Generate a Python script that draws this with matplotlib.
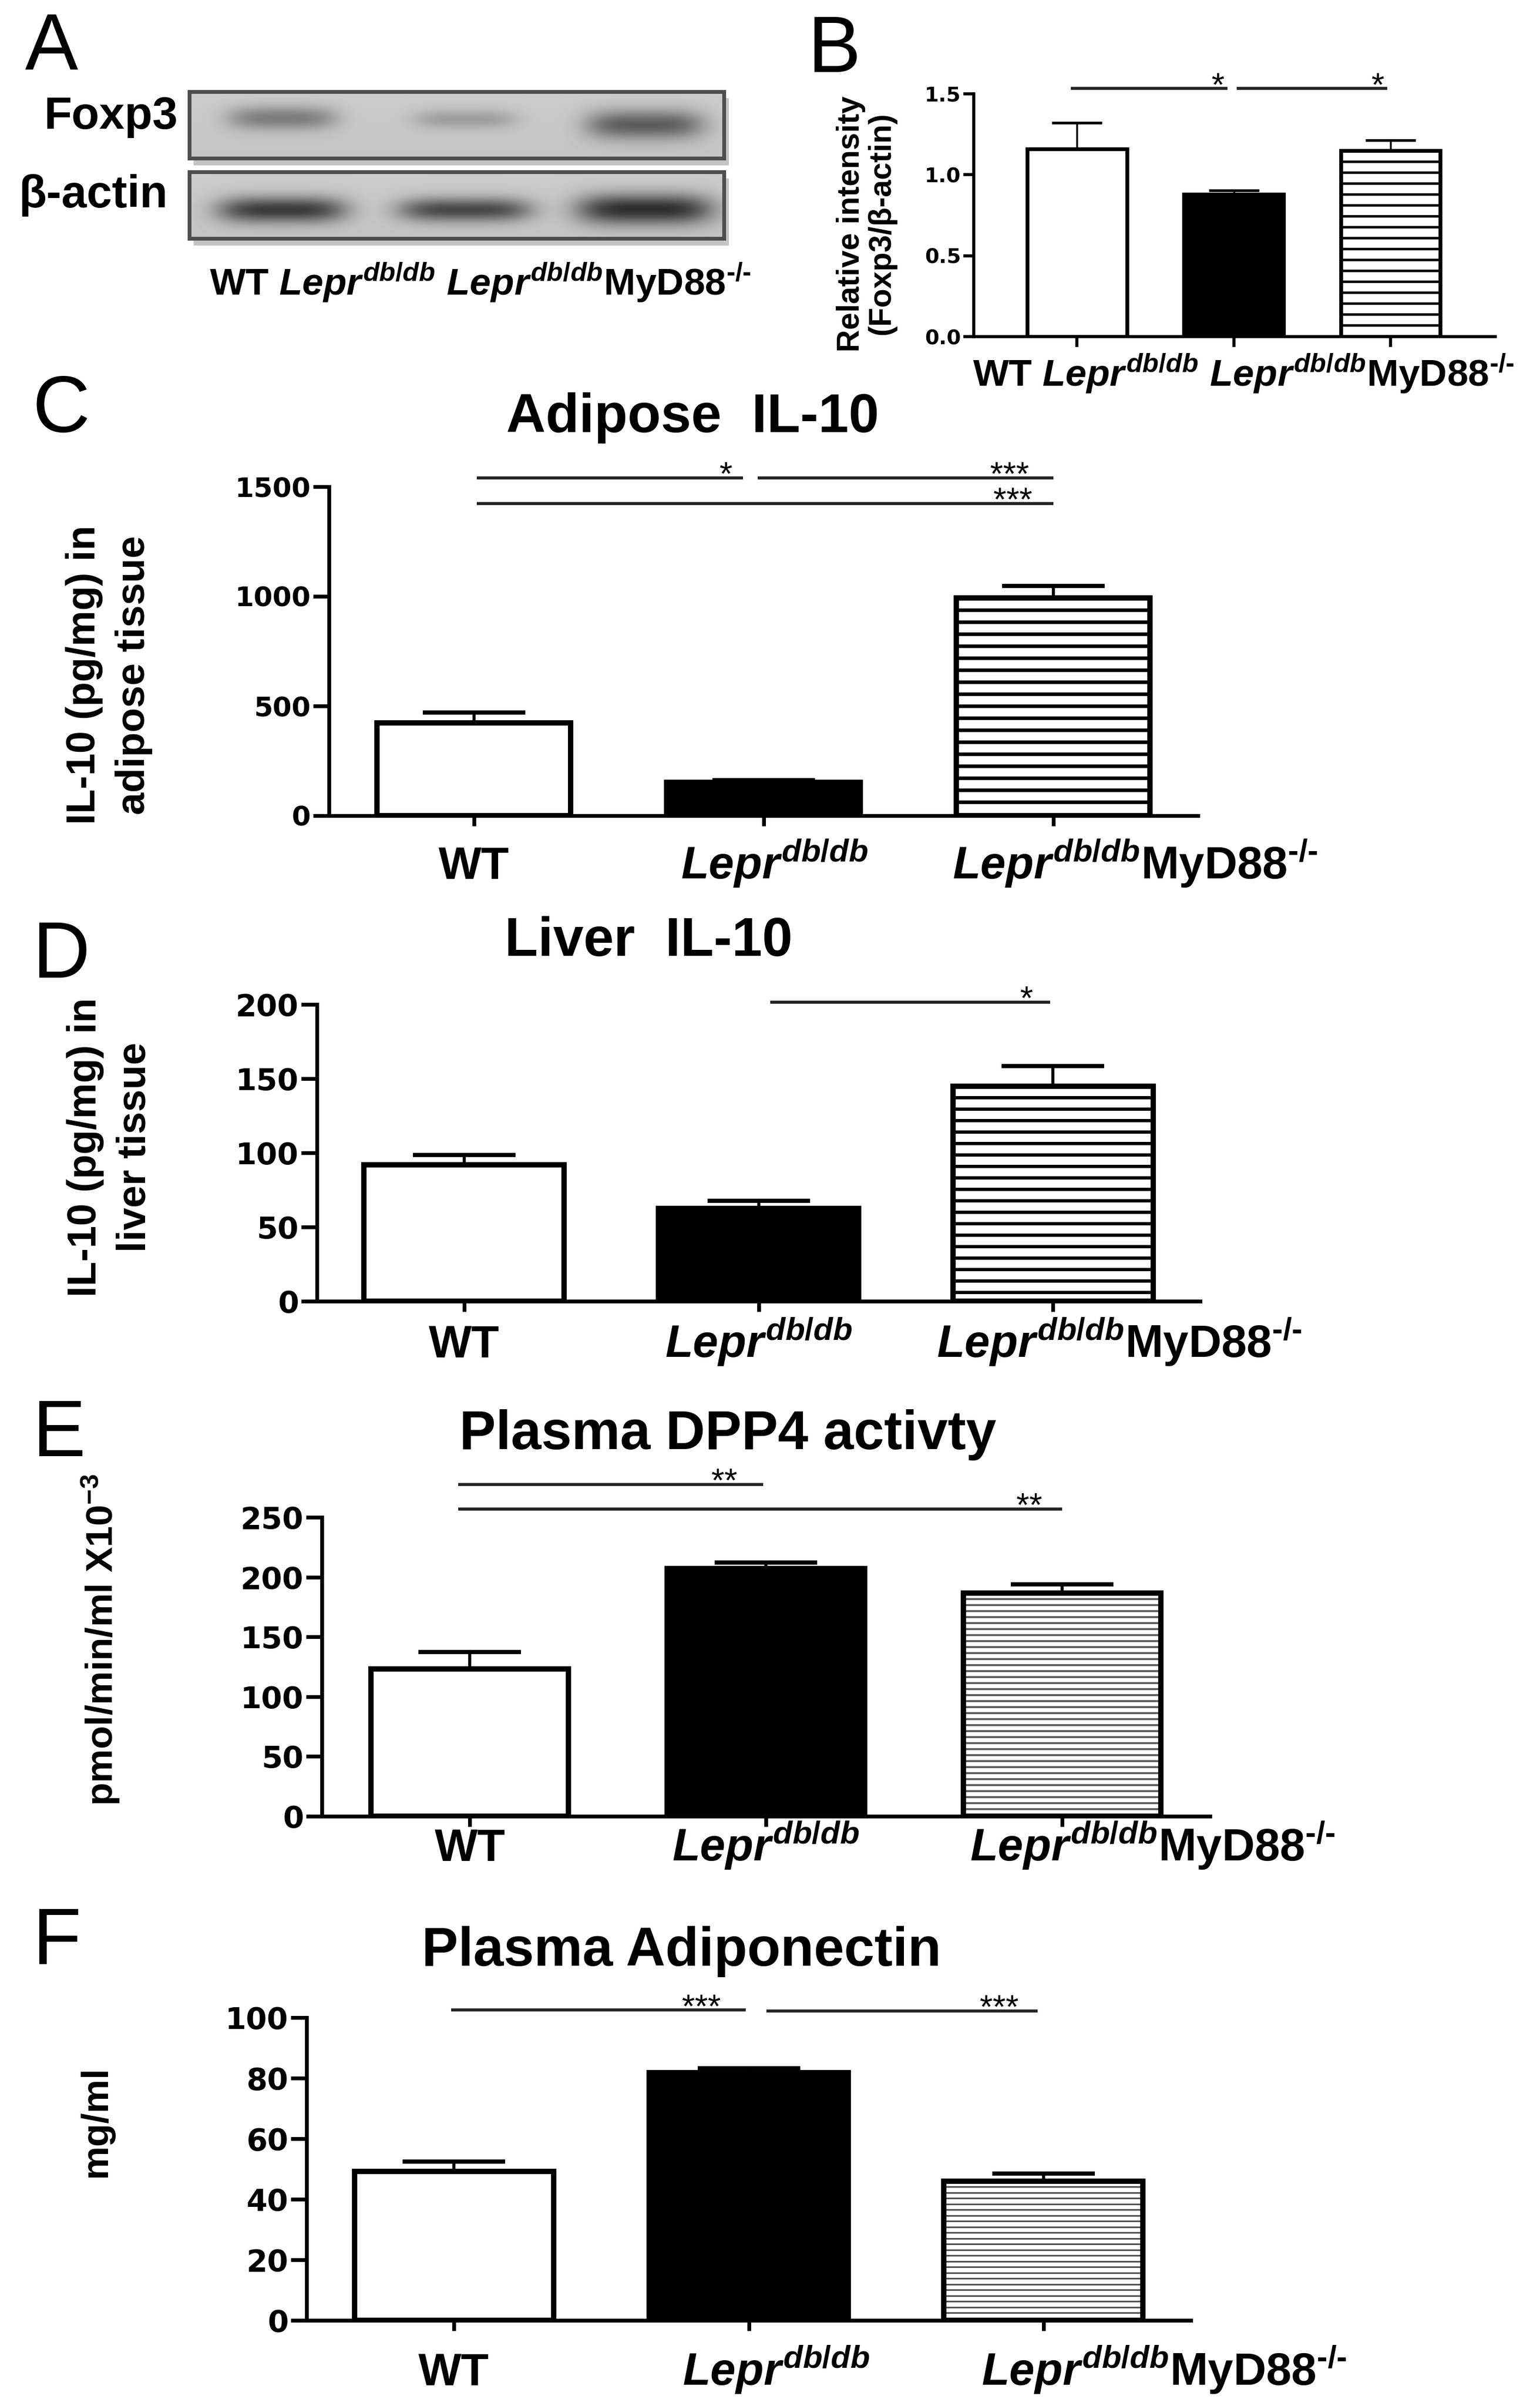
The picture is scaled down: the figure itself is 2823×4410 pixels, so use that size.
import numpy as np
import matplotlib
matplotlib.use("Agg")
import matplotlib.pyplot as plt
from matplotlib.patches import Rectangle

W, H = 2823, 4410
DPI = 100
PT = DPI / 72.0  # pixels per point

plt.rcParams['font.family'] = ['Liberation Sans', 'DejaVu Sans']
plt.rcParams['mathtext.fontset'] = 'custom'
plt.rcParams['mathtext.rm'] = 'Liberation Sans:bold'
plt.rcParams['mathtext.it'] = 'Liberation Sans:italic:bold'
plt.rcParams['mathtext.bf'] = 'Liberation Sans:bold'

# ---- data ----
LEPR = r"$Lepr^{\mathit{db}\text{/}\mathit{db}}$"
KO = r"$^{\text{-/-}}$"
groups = ["WT", LEPR, LEPR + "MyD88" + KO]
lane_text = "WT " + LEPR + " " + LEPR + "MyD88" + KO

# western blot band darkness per lane (A)
foxp3_density = [0.30, 0.17, 0.42]
actin_density = [0.55, 0.50, 0.60]

# B: Foxp3 / beta-actin
foxp3_mean = [1.16, 0.88, 1.15]
foxp3_sem = [0.16, 0.025, 0.065]
# C: adipose IL-10 (pg/mg)
adipose_mean = [424, 151, 992]
adipose_sem = [47, 11, 56]
# D: liver IL-10 (pg/mg)
liver_mean = [91.8, 62.4, 144.7]
liver_sem = [6.7, 5.1, 13.7]
# E: plasma DPP4 activity
dpp4_mean = [123, 207, 186.5]
dpp4_sem = [14.4, 5.3, 7.6]
# F: plasma adiponectin (mg/ml)
adipo_mean = [49.1, 81.8, 46.0]
adipo_sem = [3.4, 1.5, 2.5]

# significance bars: (x from, x to, y, stars, star x)
foxp3_sig = [(-0.04, 0.96, 1.533, "*", 0.90), (1.02, 1.98, 1.533, "*", 1.92)]
adipose_sig = [(0.01, 0.93, 1540, "*", 0.87), (0.98, 2.0, 1540, "***", 1.85),
               (0.01, 2.0, 1424, "***", 1.86)]
liver_sig = [(1.04, 1.99, 201.5, "*", 1.91)]
dpp4_sig = [(-0.04, 0.99, 277.5, "**", 0.86), (-0.04, 2.0, 257, "**", 1.89)]
adipo_sig = [(-0.01, 0.99, 102.5, "***", 0.84), (1.06, 1.98, 102.2, "***", 1.85)]

fig = plt.figure(figsize=(W / DPI, H / DPI), dpi=DPI)


def px_rect(left, right, top, bottom):
    return [left / W, 1 - bottom / H, (right - left) / W, (bottom - top) / H]


def fig_text(x, y, s, **kw):
    fig.text(x / W, 1 - y / H, s, **kw)


# ---- panel A: blot ----
def blot_strip(top, bottom, density, centers_y, half_w, half_h):
    left, right = 347, 1327
    sh = Rectangle(((left + 8) / W, 1 - (bottom + 12) / H), (right - left) / W, (bottom - top) / H,
                   transform=fig.transFigure, color="#c4c4c4", zorder=-1)
    fig.add_artist(sh)
    ax = fig.add_axes(px_rect(left, right, top, bottom))
    h, w = bottom - top, right - left
    yy, xx = np.mgrid[0:h, 0:w]
    img = 0.80 - 0.03 * (yy / h)
    lane_x = [170, 505, 835]
    for d, cx, cy, hw, hh in zip(density, lane_x, centers_y, half_w, half_h):
        img = img - d * np.exp(-((xx - cx) / hw) ** 4 - ((yy - cy) / hh) ** 2)
    ax.imshow(img, cmap="gray", vmin=0, vmax=1, aspect="auto", interpolation="bilinear")
    ax.set_xticks([])
    ax.set_yticks([])
    for s in ax.spines.values():
        s.set_color("#4d4d4d")
        s.set_linewidth(5)


blot_strip(168, 290, foxp3_density, [48, 50, 60], [100, 95, 108], [22, 18, 27])
blot_strip(315, 437, actin_density, [69, 69, 68], [118, 122, 125], [24, 22, 28])
fig_text(326, 236, "Foxp3", ha="right", va="baseline", fontsize=60, fontweight="bold")
fig_text(307, 380, "β-actin", ha="right", va="baseline", fontsize=60, fontweight="bold")
fig_text(384, 541, lane_text, ha="left", va="baseline", fontsize=50, fontweight="bold")


# ---- bar panels ----
def bar_panel(rect, means, sems, ymax, yticks, ylabels, width, xlim,
              bar_lw, spine_lw, stripe_px, stripe_lw_px, stripe_color,
              capsize, cap_lw, err_lw, num_fs, ytick_len, xtick_len, sig):
    ax = fig.add_axes(px_rect(*rect))
    x = np.arange(len(means))
    ax.bar(x, means, width, color=["white", "black", "white"], edgecolor="none", zorder=2)
    step = stripe_px * ymax / (rect[3] - rect[2])
    ys = np.arange(means[2] - step, step * 0.3, -step)
    ax.hlines(ys, x[2] - width / 2, x[2] + width / 2, colors=stripe_color,
              lw=stripe_lw_px / PT, zorder=2.5)
    ax.bar(x, means, width, fill=False, edgecolor="black", lw=bar_lw, zorder=3)
    ax.errorbar(x, means, yerr=[np.zeros(len(sems)), sems], fmt="none", ecolor="black",
                elinewidth=err_lw, capsize=capsize, capthick=cap_lw, zorder=4)
    ax.set_xlim(*xlim)
    ax.set_ylim(0, ymax)
    for side in ["top", "right"]:
        ax.spines[side].set_visible(False)
    for side in ["left", "bottom"]:
        ax.spines[side].set_linewidth(spine_lw)
    ax.set_xticks(x, labels=[])
    ax.set_yticks(yticks, labels=ylabels, fontfamily="DejaVu Sans",
                  fontweight="bold", fontsize=num_fs)
    ax.tick_params(axis="y", direction="out", length=ytick_len, width=spine_lw, pad=3)
    ax.tick_params(axis="x", direction="out", length=xtick_len, width=spine_lw)
    for x0, x1, y, s, tx in sig:
        ax.plot([x0, x1], [y, y], color="#222222", lw=4, clip_on=False,
                solid_capstyle="butt")
        ax.annotate(s, xy=(tx, y), xytext=(0, -13 / PT), textcoords="offset points",
                    ha="center", va="baseline", fontsize=44, annotation_clip=False)
    return ax


def group_labels(ax, base_px, dx_px):
    for i, lab in enumerate(groups):
        ax.annotate(lab, xy=(i, 0), xycoords=("data", "axes fraction"),
                    xytext=(dx_px[i] / PT, -base_px / PT), textcoords="offset points",
                    ha="center", va="baseline", fontsize=60, fontweight="bold",
                    annotation_clip=False)


# B
bar_panel((1785, 2741, 172, 617), foxp3_mean, foxp3_sem, 1.5, [0, 0.5, 1.0, 1.5],
          ["0.0", "0.5", "1.0", "1.5"], 0.635, (-0.66, 2.67),
          5, 4, 20, 4.5, "black", 33, 3.5, 2.5, 27, 14, 14, foxp3_sig)
fig_text(1588, 410, "Relative intensity\n(Foxp3/β-actin)", rotation=90, ha="center",
         va="center", fontsize=41, fontweight="bold", linespacing=1.05,
         multialignment="center")
fig_text(2280, 708, lane_text, ha="center", va="baseline", fontsize=50, fontweight="bold")

# C
ax_c = bar_panel((603, 2196, 892, 1495), adipose_mean, adipose_sem, 1500, [0, 500, 1000, 1500],
                 ["0", "500", "1000", "1500"], 0.67, (-0.5, 2.5),
                 7, 5, 22, 6.5, "black", 68, 5.5, 4, 36, 21, 14, adipose_sig)
group_labels(ax_c, 116, [0, 20, 150])
fig_text(200, 1237, "IL-10 (pg/mg) in\nadipose tissue", rotation=90, ha="center",
         va="center", fontsize=53, fontweight="bold", linespacing=1.4,
         multialignment="center")
fig_text(1270, 792, "Adipose  IL-10", ha="center", va="baseline", fontsize=72, fontweight="bold")

# D
ax_d = bar_panel((581, 2200, 1841, 2385), liver_mean, liver_sem, 200, [0, 50, 100, 150, 200],
                 ["0", "50", "100", "150", "200"], 0.68, (-0.5, 2.5),
                 7, 5, 21, 6, "black", 68, 5.5, 4, 40, 21, 14, liver_sig)
group_labels(ax_d, 103, [0, 0, 122])
fig_text(202, 2103, "IL-10 (pg/mg) in\nliver tissue", rotation=90, ha="center",
         va="center", fontsize=53, fontweight="bold", linespacing=1.4,
         multialignment="center")
fig_text(1189, 1752, "Liver  IL-10", ha="center", va="baseline", fontsize=72, fontweight="bold")

# E
ax_e = bar_panel((590, 2218, 2781, 3329), dpp4_mean, dpp4_sem, 250, [0, 50, 100, 150, 200, 250],
                 ["0", "50", "100", "150", "200", "250"], 0.667, (-0.5, 2.5),
                 7, 5, 11, 3.5, "#555555", 68, 5.5, 4, 40, 21, 14, dpp4_sig)
group_labels(ax_e, 82, [0, 0, 166])
fig_text(185, 3006, "pmol/min/ml X10$^{-3}$", rotation=90, ha="center",
         va="center", fontsize=50, fontweight="bold")
fig_text(1334, 2656, "Plasma DPP4 activty", ha="center", va="baseline", fontsize=72,
         fontweight="bold")

# F
ax_f = bar_panel((562, 2183, 3698, 4253), adipo_mean, adipo_sem, 100, [0, 20, 40, 60, 80, 100],
                 ["0", "20", "40", "60", "80", "100"], 0.676, (-0.5, 2.5),
                 7, 5, 10.5, 3, "#555555", 68, 5.5, 4, 40, 21, 14, adipo_sig)
group_labels(ax_f, 119, [0, 50, 221])
fig_text(176, 3889, "mg/ml", rotation=90, ha="center", va="center", fontsize=50,
         fontweight="bold")
fig_text(1249, 3603, "Plasma Adiponectin", ha="center", va="baseline", fontsize=72,
         fontweight="bold")

# panel letters
for letter, lx, ly in [("A", 46, 128), ("B", 1481, 132), ("C", 60, 792),
                       ("D", 60, 1792), ("E", 60, 2669), ("F", 60, 3600)]:
    fig_text(lx, ly, letter, ha="left", va="baseline", fontsize=105)

fig.savefig("out.png", dpi=DPI)
